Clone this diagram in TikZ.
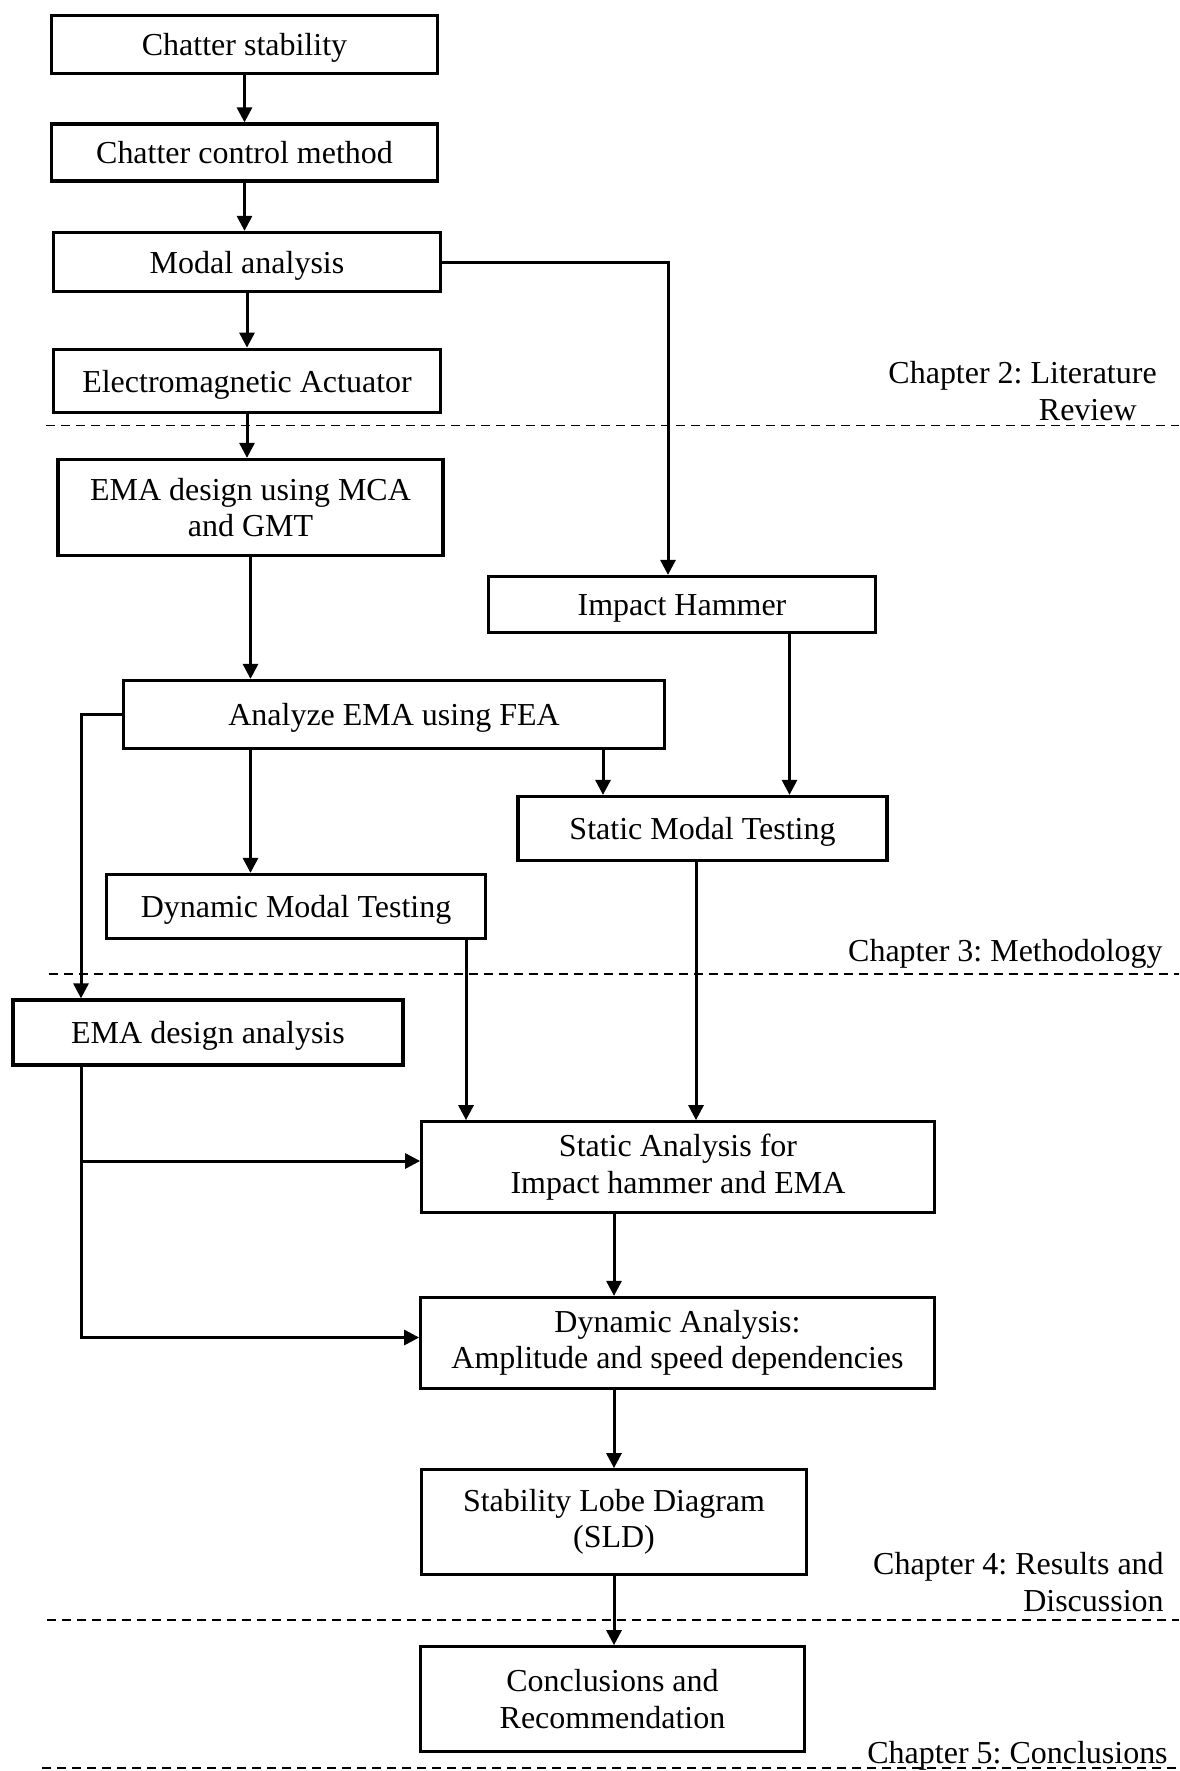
\documentclass[tikz,border=0pt]{standalone}
\usepackage{fontspec}
\setmainfont{Liberation Serif}
\usetikzlibrary{arrows.meta,positioning,calc}
\frenchspacing

\begin{document}
\begin{tikzpicture}[
    stage/.style={draw, line width=0.065cm, align=center, inner sep=2pt,
                  font=\fontsize{18.2}{20.8}\selectfont},
    oneline/.style={text height=0.58cm, text depth=0.14cm},
    flow/.style={-{Triangle[length=0.3cm, width=0.3cm]}, line width=0.06cm},
    divider/.style={dash pattern=on 0.17cm off 0.13cm, line width=0.035cm},
    chap/.style={anchor=base east, align=right, inner sep=0pt,
                 font=\fontsize{18.2}{20.8}\selectfont}
]
\useasboundingbox (0,0) rectangle (23.58,-35.42);

% chapter dividers
\draw[divider] (0.92,-8.51) -- (23.58,-8.51);
\draw[divider] (0.98,-19.48) -- (23.58,-19.48);
\draw[divider] (0.94,-32.40) -- (23.58,-32.40);
\draw[divider] (0.84,-35.36) -- (23.58,-35.36);

\node[chap] (ch2) at (23.14,-8.40) {Chapter 2: Literature\\Review\hspace*{0.4cm}};
\node[chap] (ch3) at (23.26,-19.23) {Chapter 3: Methodology};
\node[chap] (ch4) at (23.28,-32.22) {Chapter 4: Results and\\Discussion};
\node[chap] (ch5) at (23.36,-35.26) {Chapter 5: Conclusions};

% literature review
\node[stage, oneline, minimum width=7.72cm, minimum height=1.16cm] (stab) at (4.89,-0.89) {Chatter stability};
\node[stage, oneline, minimum width=7.72cm, minimum height=1.14cm] (ctrl) at (4.89,-3.05) {Chatter control method};
\node[stage, oneline, minimum width=7.74cm, minimum height=1.18cm] (modal) at (4.94,-5.24) {Modal analysis};
\node[stage, oneline, minimum width=7.74cm, minimum height=1.27cm] (ema) at (4.94,-7.62) {Electromagnetic Actuator};

% methodology
\node[stage, minimum width=7.70cm, minimum height=1.92cm] (emad) at (5.01,-10.15) {EMA design using MCA\\and GMT};
\node[stage, oneline, minimum width=7.75cm, minimum height=1.12cm] (hammer) at (13.64,-12.09) {Impact Hammer};
\node[stage, oneline, minimum width=10.82cm, minimum height=1.36cm] (fea) at (7.88,-14.29) {Analyze EMA using FEA};
\node[stage, oneline, minimum width=7.38cm, minimum height=1.28cm] (smt) at (14.05,-16.57) {Static Modal Testing};
\node[stage, oneline, minimum width=7.58cm, minimum height=1.28cm] (dmt) at (5.92,-18.13) {Dynamic Modal Testing};

% results
\node[stage, oneline, minimum width=7.80cm, minimum height=1.30cm] (eda) at (4.16,-20.65) {EMA design analysis};
\node[stage, minimum width=10.25cm, minimum height=1.81cm] (sa) at (13.56,-23.34) {Static Analysis for\\Impact hammer and EMA};
\node[stage, minimum width=10.27cm, minimum height=1.82cm] (da) at (13.55,-26.86) {Dynamic Analysis:\\Amplitude and speed dependencies};
\node[stage, minimum width=7.69cm, minimum height=2.09cm] (sld) at (12.28,-30.44) {Stability Lobe Diagram\\(SLD)};
\node[stage, minimum width=7.68cm, minimum height=2.09cm] (concl) at (12.25,-33.98) {Conclusions and\\Recommendation};

% connectors
\coordinate (hamIn) at ([xshift=-0.28cm]hammer.north);
\coordinate (hamOut) at ([xshift=2.15cm]hammer.south);
\coordinate (smtIn) at ([xshift=-1.99cm]smt.north);
\coordinate (smtOut) at ([xshift=-0.13cm]smt.south);
\coordinate (dmtOut) at ([xshift=3.40cm]dmt.south);
\coordinate (edaIn) at ([xshift=-2.54cm]eda.north);
\coordinate (edaOut) at ([xshift=-2.54cm]eda.south);

\draw[flow] (stab) -- (ctrl);
\draw[flow] (ctrl.south) -- (ctrl.south |- modal.north);
\draw[flow] (modal) -- (ema);
\draw[flow] (ema.south) -- (ema.south |- emad.north);
\draw[flow] (emad.south) -- (emad.south |- fea.north);
\draw[flow] (modal.east) -| (hamIn);
\draw[flow] (hamOut) -- (hamOut |- smt.north);
\draw[flow] (smtIn |- fea.south) -- (smtIn);
\draw[flow] (fea.south -| emad.south) -- (emad.south |- dmt.north);
\draw[flow] (fea.west) -| (edaIn);
\draw[flow] (dmtOut) -- (dmtOut |- sa.north);
\draw[flow] (smtOut) -- (smtOut |- sa.north);
\draw[flow] (edaOut) |- ([yshift=0.12cm]sa.west);
\draw[flow] (edaOut) |- ([yshift=0.11cm]da.west);
\draw[flow] (sa.south -| sld.north) -- (da.north -| sld.north);
\draw[flow] (da.south -| sld.north) -- (sld.north);
\draw[flow] (sld.south) -- (sld.south |- concl.north);

\end{tikzpicture}
\end{document}
